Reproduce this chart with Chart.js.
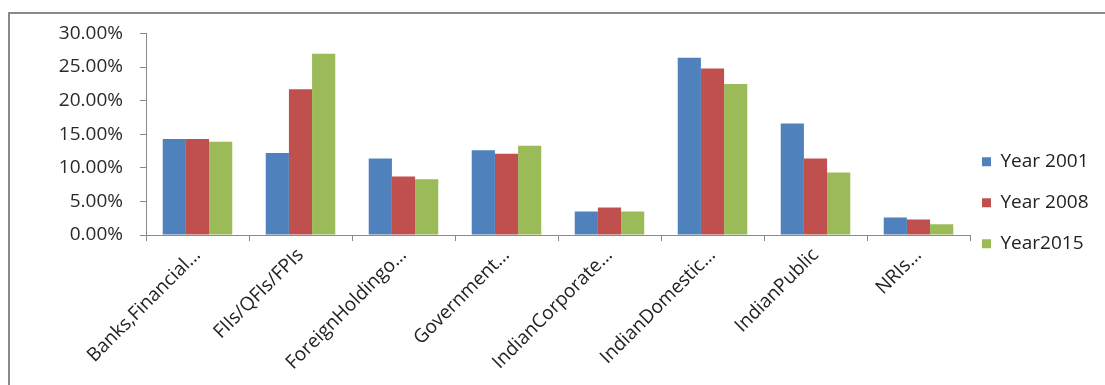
<!DOCTYPE html>
<html>
<head>
<meta charset="utf-8">
<script src="https://cdn.jsdelivr.net/npm/chart.js@4.4.1/dist/chart.umd.min.js"></script>
<style>
  html, body { margin: 0; padding: 0; background: #ffffff; }
  body { width: 1105px; height: 385px; position: relative; overflow: hidden; }
  #frame {
    position: absolute; left: 8px; top: 12px; width: 1200px; height: 500px;
    border-left: 2px solid #8a8a8a; border-top: 2px solid #8a8a8a;
  }
  #chart { position: absolute; left: 0; top: 0; }
</style>
</head>
<body>
<div id="frame"></div>
<canvas id="chart" width="1105" height="385"></canvas>
<script>
// Shareholding pattern by investor category (% of total)
const categories = [
  'Banks,Financial...', 'FIIs/QFIs/FPIs', 'ForeignHoldingo...', 'Government...',
  'IndianCorporate...', 'IndianDomestic...', 'IndianPublic', 'NRIs...'
];
const seriesNames = ['Year 2001', 'Year 2008', 'Year2015'];
const year2001 = [14.3, 12.2, 11.4, 12.6, 3.5, 26.4, 16.6, 2.6];
const year2008 = [14.3, 21.7, 8.7, 12.1, 4.1, 24.8, 11.4, 2.3];
const year2015 = [13.9, 27.0, 8.3, 13.3, 3.5, 22.5, 9.3, 1.6];
const yTicks = [0, 5, 10, 15, 20, 25, 30];

const seriesColors = ['#4f81bd', '#c0504d', '#9bbb59'];
const axisColor = '#8a8a8a';
const textColor = '#222222';

// Fixed-width legend column, drawn slightly closer to the plot area
const legendLayout = {
  id: 'legendLayout',
  afterInit(chart) {
    const lg = chart.legend;
    if (!lg) return;
    const fit = lg.fit.bind(lg);
    lg.fit = function () { fit(); this.width = 135; };
  },
  afterLayout(chart) {
    const lg = chart.legend;
    if (lg) { lg.left -= 10; lg.right -= 10; }
  }
};

function draw() {
  Chart.defaults.font.family = '"Open Sans", sans-serif';
  Chart.defaults.color = textColor;

  new Chart(document.getElementById('chart'), {
    type: 'bar',
    data: {
      labels: categories,
      datasets: [year2001, year2008, year2015].map((values, i) => ({
        label: seriesNames[i],
        data: values,
        backgroundColor: seriesColors[i],
        borderWidth: 0,
        categoryPercentage: 0.675,
        barPercentage: 1.0
      }))
    },
    plugins: [legendLayout],
    options: {
      responsive: false,
      animation: false,
      devicePixelRatio: 1,
      layout: { padding: { top: 33.5, bottom: 13, left: 0, right: 0 } },
      plugins: {
        tooltip: { enabled: false },
        legend: {
          position: 'right',
          align: 'center',
          labels: {
            boxWidth: 9,
            boxHeight: 9,
            padding: 22,
            color: textColor,
            font: { size: 19 }
          }
        }
      },
      scales: {
        x: {
          grid: {
            offset: true,
            drawOnChartArea: false,
            color: axisColor,
            tickLength: 6,
            tickColor: axisColor
          },
          border: { color: axisColor, width: 1 },
          ticks: {
            minRotation: 45,
            maxRotation: 45,
            autoSkip: false,
            padding: 3,
            color: textColor,
            font: { size: 19 }
          },
          afterFit: (scale) => { scale.height = 137; }
        },
        y: {
          min: 0,
          max: 30,
          afterBuildTicks: (scale) => { scale.ticks = yTicks.map(v => ({ value: v })); },
          grid: {
            drawOnChartArea: false,
            color: axisColor,
            tickLength: 6,
            tickColor: axisColor
          },
          border: { color: axisColor, width: 1 },
          ticks: {
            padding: 17,
            color: '#2a2a2a',
            font: { size: 19 },
            callback: (v) => Number(v).toFixed(2) + '%'
          },
          afterFit: (scale) => { scale.width = 146; }
        }
      }
    }
  });
}

document.fonts.load('19px "Open Sans"').then(draw, draw);
</script>
</body>
</html>
